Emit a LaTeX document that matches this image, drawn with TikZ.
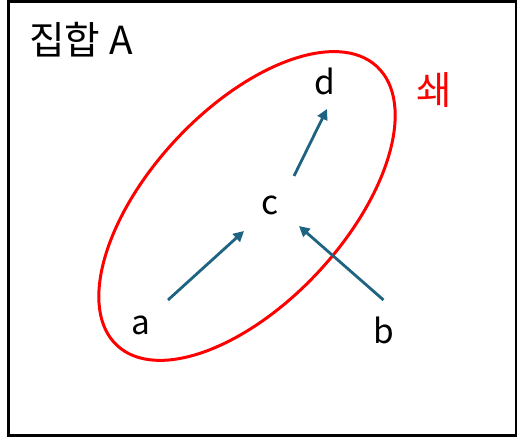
\documentclass[tikz,border=0pt]{standalone}
\usepackage{fontspec}
\setmainfont{Noto Sans CJK KR}
\usetikzlibrary{arrows.meta,positioning}
\definecolor{setred}{RGB}{255,0,0}
\definecolor{flowblue}{RGB}{30,99,130}

\begin{document}
\begin{tikzpicture}[x=0.02cm, y=0.02cm,
  elem/.style={font=\fontsize{19}{22}\selectfont, inner sep=0pt},
  flow/.style={-{Triangle[length=6pt,width=6pt]}, line width=1.6pt, flowblue}]

\useasboundingbox (0,0) rectangle (518,438);

% Outer set
\draw[line width=1.7pt] (8.5,2) rectangle (516,436.5);
\node[font=\fontsize{22}{26}\selectfont, inner sep=0pt] (setA) at (81,398) {집합 A};

% Chain (red ellipse)
\draw[setred, line width=1.7pt, rotate around={47:(247,232)}] (247,232) ellipse (190.6 and 97.2);
\node[font=\fontsize{22}{26}\selectfont, text=setred, inner sep=0pt] (chain) at (434,348) {쇄};

% Elements
\node[elem] (a) at (141,113) {a};
\node[elem] (b) at (383.5,108) {b};
\node[elem] (c) at (270,233) {c};
\node[elem] (d) at (324.5,357) {d};

% Order relations
\draw[flow] ([shift={(27,25)}]a.center) -- ([shift={(-26,-26)}]c.center);
\draw[flow] ([shift={(0,30)}]b.center) -- ([shift={(29,-21)}]c.center);
\draw[flow] ([shift={(24,29)}]c.center) -- ([shift={(2.5,-28)}]d.center);

\end{tikzpicture}
\end{document}
